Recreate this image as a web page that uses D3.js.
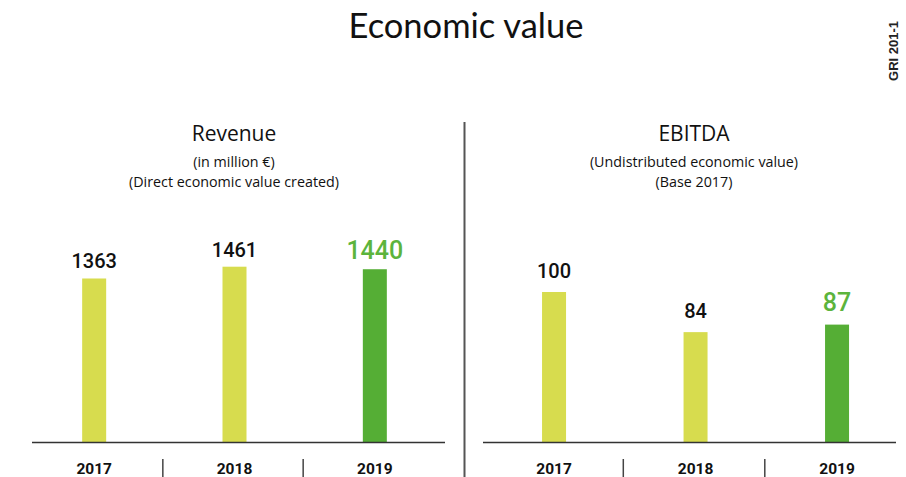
<!DOCTYPE html>
<html><head><meta charset="utf-8">
<script src="https://cdn.jsdelivr.net/npm/d3@7"></script>
<style>body{margin:0;background:#fff}svg{display:block}</style>
</head><body><svg id="c" width="906" height="477"></svg>
<script>
const years = ["2017","2018","2019"];
const revenue = [1363, 1461, 1440];
const ebitda = [100, 84, 87];
const title = "Economic value";
const panels = [
  {name:"Revenue", sub:["(in million €)","(Direct economic value created)"], values:revenue, domain:[0,1461]},
  {name:"EBITDA", sub:["(Undistributed economic value)","(Base 2017)"], values:ebitda, domain:[40,100]}
];
const light="#d7dc4e", dark="#55ae35", darkText="#5cb43c";
const svg=d3.select("#c");
const font="'Open Sans', sans-serif";
svg.append("text").attr("x",466).attr("y",38).attr("text-anchor","middle")
  .style("font-family","Lato, sans-serif").style("font-size","34.5px").attr("fill","#111").text(title);
svg.append("text").attr("transform","translate(897.5,51) rotate(-90)").attr("text-anchor","middle")
  .style("font-family","'Liberation Sans', Arial, sans-serif").style("font-weight","bold").style("font-size","13px").attr("fill","#222").text("GRI 201-1");
svg.append("line").attr("x1",464.5).attr("x2",464.5).attr("y1",122).attr("y2",477).attr("stroke","#555").attr("stroke-width",2);

const baseY=442.5, barW=24;
const layouts=[
  {range:[24,445], axis:[32,445], cx:234, top:[175.5,266.7], gap:10},
  {range:[483.3,907.8], axis:[483,896], cx:694, top:[150,292], gap:14}
];
panels.forEach((p,i)=>{
  const L=layouts[i];
  const g=svg.append("g");
  g.append("text").attr("x",L.cx).attr("y",141).attr("text-anchor","middle")
    .style("font-family",font).style("font-size","21px").attr("fill","#111").text(p.name);
  p.sub.forEach((s,j)=>g.append("text").attr("x",L.cx).attr("y",167+j*19.5).attr("text-anchor","middle")
    .style("font-family",font).style("font-size","14.3px").attr("fill","#111").text(s));
  const x=d3.scaleBand().domain(years).range(L.range).padding(0);
  const cxOf=k=>x(years[k])+x.bandwidth()/2;
  const y=d3.scaleLinear().domain(p.domain).range([baseY, L.top[1]]);
  g.selectAll("rect.b").data(p.values).join("rect")
    .attr("x",(d,k)=>cxOf(k)-barW/2).attr("width",barW)
    .attr("y",d=>y(d)).attr("height",d=>baseY-y(d))
    .attr("fill",(d,k)=>k===2?dark:light);
  g.selectAll("text.v").data(p.values).join("text")
    .attr("x",(d,k)=>cxOf(k)).attr("y",d=>y(d)-L.gap)
    .attr("text-anchor","middle").style("font-family","Roboto, sans-serif")
    .style("font-weight","500")
    .style("font-size",(d,k)=>k===2?"25px":"20px")
    .attr("fill",(d,k)=>k===2?darkText:"#111").text(d=>d);
  g.append("line").attr("x1",L.axis[0]).attr("x2",L.axis[1]).attr("y1",baseY).attr("y2",baseY)
    .attr("stroke","#333").attr("stroke-width",1.3);
  years.forEach((yr,k)=>{
    g.append("text").attr("x",cxOf(k)).attr("y",474).attr("text-anchor","middle")
      .style("font-family","Roboto, sans-serif").style("font-weight","bold").style("font-size","15.5px")
      .attr("fill","#111").text(yr);
    if(k>0){
      const sx=x(yr)-1.5;
      g.append("line").attr("x1",sx).attr("x2",sx).attr("y1",459).attr("y2",477)
        .attr("stroke","#444").attr("stroke-width",1.5);
    }
  });
});
</script></body></html>
